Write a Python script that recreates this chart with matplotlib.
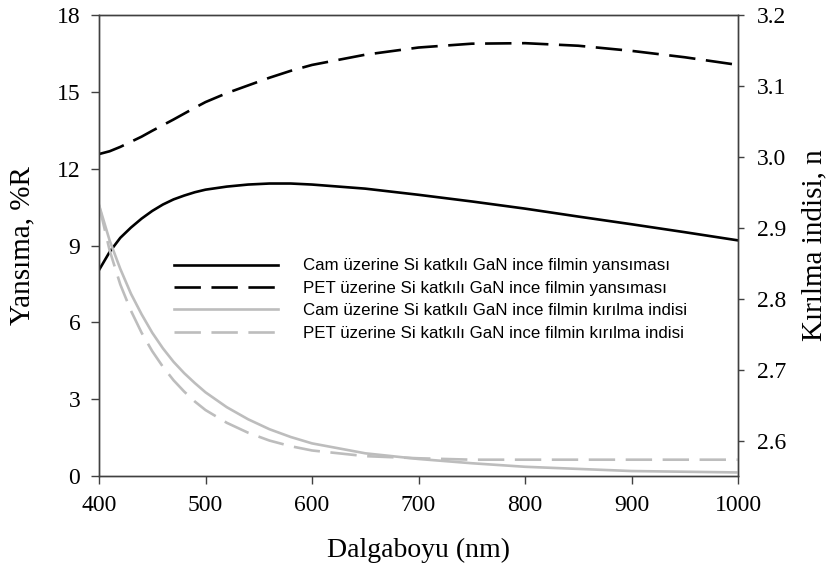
import matplotlib
matplotlib.use("Agg")
import matplotlib.pyplot as plt

# Reflectance curves, %R, sampled in wavelength (nm)
wl_refl = [400, 410, 420, 430, 440, 450, 460, 470, 480, 490, 500, 520, 540,
           560, 580, 600, 650, 700, 750, 800, 850, 900, 950, 1000]
refl_glass = [8.04, 8.75, 9.3, 9.7, 10.05, 10.35, 10.6, 10.8, 10.95, 11.08,
              11.18, 11.3, 11.38, 11.42, 11.42, 11.38, 11.22, 10.98, 10.72,
              10.44, 10.13, 9.83, 9.52, 9.2]
refl_pet = [12.57, 12.68, 12.85, 13.05, 13.25, 13.48, 13.7, 13.92, 14.15,
            14.38, 14.6, 14.95, 15.25, 15.55, 15.82, 16.05, 16.45, 16.73,
            16.88, 16.9, 16.8, 16.6, 16.35, 16.05]

# Refractive index curves, n
wl_n = [400, 410, 420, 430, 440, 450, 460, 470, 480, 490, 500, 520, 540,
        560, 580, 600, 650, 700, 750, 800, 850, 900, 950, 1000]
n_glass = [2.932, 2.882, 2.842, 2.807, 2.778, 2.752, 2.73, 2.711, 2.695,
           2.681, 2.668, 2.647, 2.63, 2.616, 2.605, 2.596, 2.582, 2.574,
           2.568, 2.563, 2.56, 2.557, 2.556, 2.555]
n_pet = [2.932, 2.868, 2.82, 2.783, 2.752, 2.726, 2.704, 2.685, 2.669, 2.655,
         2.643, 2.625, 2.611, 2.6, 2.592, 2.586, 2.578, 2.575, 2.573, 2.573,
         2.573, 2.573, 2.573, 2.573]

labels = ["Cam üzerine Si katkılı GaN ince filmin yansıması",
          "PET üzerine Si katkılı GaN ince filmin yansıması",
          "Cam üzerine Si katkılı GaN ince filmin kırılma indisi",
          "PET üzerine Si katkılı GaN ince filmin kırılma indisi"]

x_ticks = [400, 500, 600, 700, 800, 900, 1000]
y_left_ticks = [0, 3, 6, 9, 12, 15, 18]
y_right_ticks = [2.6, 2.7, 2.8, 2.9, 3.0, 3.1, 3.2]

serif = "Liberation Serif"
sans = "Liberation Sans"
gray = "#bdbdbd"
spine_c = "#404040"
dash = (0, (10, 4))

fig = plt.figure(figsize=(8.35, 5.76), dpi=100)
ax = fig.add_axes([99 / 835, 1 - 476 / 576, (738 - 99) / 835, (476 - 15) / 576])
ax2 = ax.twinx()

l1, = ax.plot(wl_refl, refl_glass, color="black", lw=1.9)
l2, = ax.plot(wl_refl, refl_pet, color="black", lw=1.9, linestyle=dash)
l3, = ax2.plot(wl_n, n_glass, color=gray, lw=1.9)
l4, = ax2.plot(wl_n, n_pet, color=gray, lw=1.9, linestyle=dash)

ax.set_xlim(400, 1000)
ax.set_ylim(0, 18)
ax2.set_ylim(2.55, 3.2)
ax.set_xticks(x_ticks)
ax.set_yticks(y_left_ticks)
ax2.set_yticks(y_right_ticks)
ax2.set_yticklabels([f"{v:.1f}" for v in y_right_ticks])

for a in (ax, ax2):
    for s in a.spines.values():
        s.set_color(spine_c)
        s.set_linewidth(1.0)
    a.tick_params(direction="out", length=5.5, width=1.0, color=spine_c,
                  labelsize=17, pad=8)
    for t in a.get_xticklabels() + a.get_yticklabels():
        t.set_fontfamily(serif)
ax2.tick_params(axis="y", length=4.5, pad=9)

ax.set_xlabel("Dalgaboyu (nm)", fontfamily=serif, fontsize=20, labelpad=16)
ax.set_ylabel("Yansıma, %R", fontfamily=serif, fontsize=21, labelpad=15)
ax2.set_ylabel("Kırılma indisi, n", fontfamily=serif, fontsize=21, labelpad=11)

leg = ax2.legend([l1, l2, l3, l4], labels, loc="upper left",
                 bbox_to_anchor=(0.094, 0.505), frameon=False,
                 prop={"family": sans, "size": 12.2}, handlelength=6.1,
                 handletextpad=1.5, labelspacing=0.44)

fig.savefig("out.png", dpi=100)
